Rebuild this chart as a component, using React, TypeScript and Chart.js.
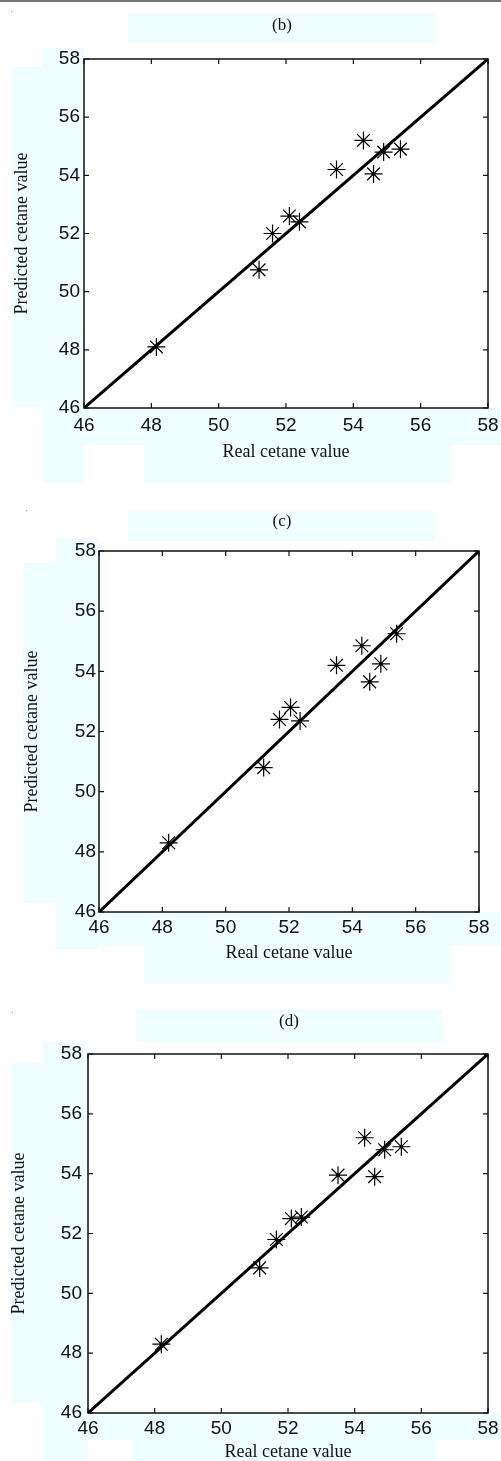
import React, { useEffect, useRef } from "react";
import { Chart, registerables } from "chart.js";

Chart.register(...registerables);

// ---------- data ----------
const tickValues = [46, 48, 50, 52, 54, 56, 58];
const panelTitles = ["(b)", "(c)", "(d)"];
const xAxisTitle = "Real cetane value";
const yAxisTitle = "Predicted cetane value";
const idealLine = [46, 58];

const realB = [48.15, 51.2, 51.6, 52.1, 52.4, 53.5, 54.3, 54.6, 54.9, 55.4];
const predB = [48.1, 50.75, 52.0, 52.6, 52.4, 54.2, 55.2, 54.05, 54.8, 54.9];

const realC = [48.2, 51.2, 51.7, 52.05, 52.35, 53.5, 54.3, 54.55, 54.9, 55.4];
const predC = [48.3, 50.8, 52.4, 52.8, 52.35, 54.2, 54.85, 53.65, 54.25, 55.25];

const realD = [48.2, 51.15, 51.65, 52.1, 52.4, 53.5, 54.3, 54.6, 54.9, 55.4];
const predD = [48.3, 50.85, 51.8, 52.5, 52.55, 53.95, 55.2, 53.9, 54.8, 54.9];

const seriesReal = [realB, realC, realD];
const seriesPred = [predB, predC, predD];

// ---------- layout / style ----------
const CYAN = "#effefe";
const TICK_FONT = "'Liberation Sans', Arial, Helvetica, sans-serif";
const SERIF = "'Liberation Serif', 'Times New Roman', Times, serif";

type Layout = {
  top: number;
  height: number;
  padTop: number;
  padRight: number;
  padBottom: number;
  yWidth: number;
  xHeight: number;
  yTickPad: number;
  xTickPad: number;
  yTitlePad: number;
  xTitlePad: number;
  titleX: number;
  titleY: number;
};

const layouts: Layout[] = [
  { top: 0, height: 490, padTop: 59, padRight: 13, padBottom: 22, yWidth: 84, xHeight: 60, yTickPad: 4, xTickPad: 8, yTitlePad: 13, xTitlePad: 7, titleX: 282, titleY: 25 },
  { top: 490, height: 490, padTop: 61, padRight: 22, padBottom: 8, yWidth: 99, xHeight: 60, yTickPad: 3, xTickPad: 6, yTitlePad: 23, xTitlePad: 10, titleX: 282, titleY: 521 },
  { top: 980, height: 481, padTop: 74, padRight: 13, padBottom: 0, yWidth: 88, xHeight: 48, yTickPad: 6, xTickPad: 6, yTitlePad: 10, xTitlePad: 0, titleX: 289, titleY: 1021 },
];

// background patches [x1, y1, x2, y2]
const cyanRects: number[][] = [
  // panel b
  [128, 13, 435, 43],
  [42, 48, 84, 483],
  [12, 67, 42, 407],
  [82, 407, 501, 445],
  [144, 445, 451, 483],
  // panel c
  [128, 511, 435, 541],
  [56, 538, 99, 949],
  [23, 563, 56, 903],
  [96, 912, 501, 945],
  [144, 945, 451, 984],
  // panel d
  [136, 1010, 443, 1042],
  [43, 1042, 88, 1461],
  [12, 1063, 43, 1403],
  [83, 1413, 501, 1440],
  [131, 1440, 437, 1461],
];

const framePlugin = {
  id: "matlabFrame",
  beforeDraw(chart: any) {
    const { ctx, chartArea: a } = chart;
    ctx.save();
    ctx.fillStyle = "#ffffff";
    ctx.fillRect(a.left, a.top, a.right - a.left, a.bottom - a.top);
    ctx.restore();
  },
  afterDatasetsDraw(chart: any) {
    const { ctx, chartArea: a, scales } = chart;
    const xs = scales.x;
    const ys = scales.y;
    ctx.save();
    ctx.strokeStyle = "#111";
    ctx.lineWidth = 1.5;
    ctx.strokeRect(a.left, a.top, a.right - a.left, a.bottom - a.top);
    ctx.beginPath();
    const L = 5;
    for (const v of tickValues) {
      const px = xs.getPixelForValue(v);
      ctx.moveTo(px, a.bottom);
      ctx.lineTo(px, a.bottom - L);
      ctx.moveTo(px, a.top);
      ctx.lineTo(px, a.top + L);
      const py = ys.getPixelForValue(v);
      ctx.moveTo(a.left, py);
      ctx.lineTo(a.left + L, py);
      ctx.moveTo(a.right, py);
      ctx.lineTo(a.right - L, py);
    }
    ctx.lineWidth = 1.2;
    ctx.stroke();
    ctx.restore();
  },
};

function Panel({ idx }: { idx: number }) {
  const ref = useRef<HTMLCanvasElement | null>(null);
  const L = layouts[idx];

  useEffect(() => {
    if (!ref.current) return;
    const pts = seriesReal[idx].map((x, i) => ({ x, y: seriesPred[idx][i] }));
    const chart = new Chart(ref.current, {
      type: "scatter",
      data: {
        datasets: [
          {
            label: "ideal",
            data: idealLine.map((v) => ({ x: v, y: v })),
            showLine: true,
            borderColor: "#000",
            borderWidth: 3,
            pointRadius: 0,
            fill: false,
          },
          {
            label: "samples",
            data: pts,
            pointStyle: "star",
            pointRadius: 9,
            borderColor: "#000",
            backgroundColor: "#000",
            borderWidth: 1.2,
          },
          {
            label: "centres",
            data: pts,
            pointStyle: "circle",
            pointRadius: 1.8,
            borderWidth: 0,
            backgroundColor: "#000",
          },
        ],
      },
      options: {
        responsive: false,
        animation: false,
        devicePixelRatio: 1,
        layout: { padding: { top: L.padTop, right: L.padRight, bottom: L.padBottom, left: 0 } },
        plugins: { legend: { display: false }, tooltip: { enabled: false }, title: { display: false } },
        scales: {
          x: {
            type: "linear",
            position: "bottom",
            min: 46,
            max: 58,
            afterBuildTicks: (s: any) => {
              s.ticks = tickValues.map((v) => ({ value: v }));
            },
            afterFit: (s: any) => {
              s.height = L.xHeight;
              s.paddingLeft = 0;
              s.paddingRight = 0;
            },
            grid: { display: false, drawTicks: false },
            border: { display: false },
            ticks: {
              padding: L.xTickPad,
              color: "#111",
              autoSkip: false,
              maxRotation: 0,
              font: { family: TICK_FONT, size: 19, lineHeight: 1 },
            },
            title: {
              display: true,
              text: xAxisTitle,
              color: "#111",
              font: { family: SERIF, size: 18, lineHeight: 1 },
              padding: { top: 0, bottom: L.xTitlePad },
            },
          },
          y: {
            type: "linear",
            position: "left",
            min: 46,
            max: 58,
            afterBuildTicks: (s: any) => {
              s.ticks = tickValues.map((v) => ({ value: v }));
            },
            afterFit: (s: any) => {
              s.width = L.yWidth;
              s.paddingTop = 0;
              s.paddingBottom = 0;
            },
            grid: { display: false, drawTicks: false },
            border: { display: false },
            ticks: {
              padding: L.yTickPad,
              color: "#111",
              autoSkip: false,
              font: { family: TICK_FONT, size: 19, lineHeight: 1 },
            },
            title: {
              display: true,
              text: yAxisTitle,
              color: "#111",
              font: { family: SERIF, size: 18, lineHeight: 1 },
              padding: { top: L.yTitlePad, bottom: 0 },
            },
          },
        },
      },
      plugins: [framePlugin],
    } as any);
    return () => chart.destroy();
  }, [idx]);

  return (
    <canvas
      ref={ref}
      width={501}
      height={L.height}
      style={{ position: "absolute", left: 0, top: L.top, width: 501, height: L.height, display: "block" }}
    />
  );
}

export default function App() {
  return (
    <div style={{ position: "absolute", left: 0, top: 0, width: 501, height: 1461, background: "#fff", overflow: "hidden" }}>
      <div style={{ position: "absolute", left: 0, top: 0, width: 501, height: 2, background: "#777" }} />
      {cyanRects.map((r, i) => (
        <div
          key={"r" + i}
          style={{ position: "absolute", left: r[0], top: r[1], width: r[2] - r[0], height: r[3] - r[1], background: CYAN }}
        />
      ))}
      {[
        [11, 11],
        [26, 510],
        [12, 1012],
      ].map((p, i) => (
        <div key={"d" + i} style={{ position: "absolute", left: p[0], top: p[1], width: 1, height: 1, background: "#999" }} />
      ))}
      {layouts.map((_, i) => (
        <Panel key={i} idx={i} />
      ))}
      {layouts.map((L, i) => (
        <div
          key={"t" + i}
          style={{
            position: "absolute",
            left: L.titleX - 50,
            top: L.titleY - 9,
            width: 100,
            height: 18,
            lineHeight: "18px",
            textAlign: "center",
            fontFamily: SERIF,
            fontSize: 17,
            color: "#111",
          }}
        >
          {panelTitles[i]}
        </div>
      ))}
    </div>
  );
}
